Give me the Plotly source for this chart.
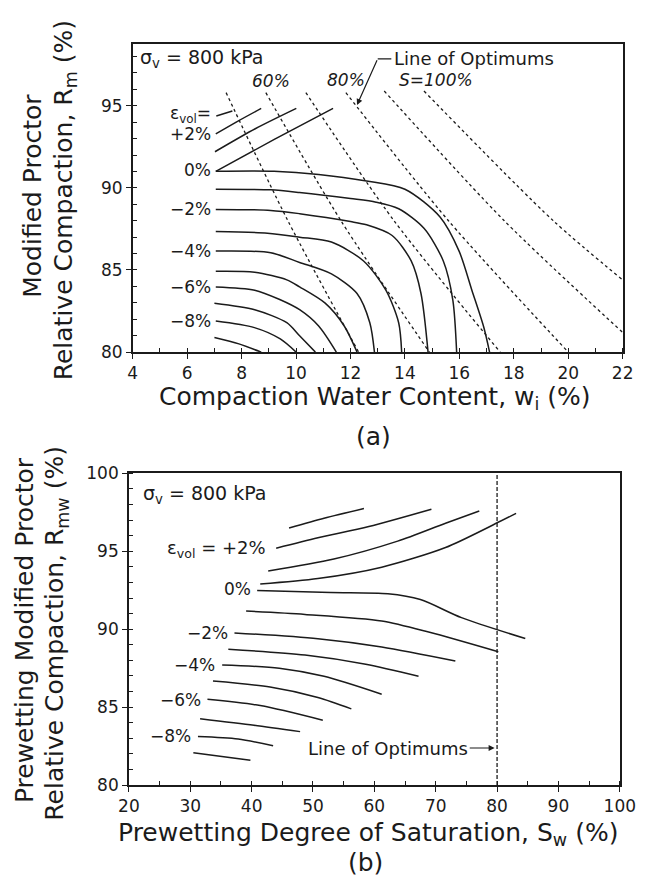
import plotly.graph_objects as go

W, H = 654, 886
FONT = "DejaVu Sans"
INK = "#1b1b1b"

# ---------------- panel (a): Rm vs compaction water content wi ----------------
# volumetric strain contours, points are (wi %, Rm %)
a_ev_plus3 = [(7.07, 94.38), (7.66, 94.68)]
a_ev_plus2 = [(7.05, 93.29), (7.9, 94.1), (8.72, 94.84)]
a_ev_plus1 = [(7.02, 92.2), (8.5, 93.6), (10.01, 94.84)]
a_ev_zero_up = [(7.05, 91.01), (9.2, 92.95), (11.36, 94.84)]
a_ev_zero = [(7.05, 91.01), (9.19, 91.01), (10.83, 90.82), (12.59, 90.42), (14.0, 89.92),
             (15.29, 88.23), (15.99, 86.15), (16.46, 83.77), (16.9, 81.5), (17.11, 80.0)]
a_ev_minus1 = [(7.05, 89.92), (9.07, 89.88), (10.13, 89.72), (12.0, 89.35), (12.94, 89.13),
               (13.77, 88.73), (14.7, 87.54), (15.41, 85.55), (15.76, 83.17), (15.9, 80.0)]
a_ev_minus2 = [(7.05, 88.69), (9.07, 88.63), (10.13, 88.43), (12.0, 87.95), (12.59, 87.75),
               (13.53, 87.1), (14.23, 85.55), (14.59, 83.57), (14.85, 80.0)]
a_ev_minus3 = [(7.05, 87.34), (8.95, 87.24), (10.13, 87.0), (11.3, 86.7), (12.48, 85.55),
               (13.3, 83.77), (13.77, 81.79), (13.88, 80.0)]
a_ev_minus4 = [(7.05, 86.15), (9.07, 86.05), (10.13, 85.46), (11.3, 84.76), (12.24, 83.57),
               (12.71, 81.79), (12.88, 80.0)]
a_ev_minus5 = [(7.05, 84.92), (8.48, 84.86), (9.66, 84.4), (10.13, 83.97), (11.07, 82.98),
               (11.77, 81.59), (12.24, 80.0)]
a_ev_minus6 = [(7.05, 83.97), (8.48, 83.77), (9.4, 83.2), (10.13, 82.58), (10.83, 81.59), (11.48, 80.0)]
a_ev_minus7 = [(7.0, 82.98), (8.48, 82.58), (9.66, 81.79), (10.13, 80.99), (10.71, 80.0)]
a_ev_minus8 = [(7.05, 81.89), (8.47, 81.49), (9.42, 80.8), (10.0, 80.0)]
a_ev_minus9 = [(7.0, 80.89), (7.9, 80.5), (8.72, 80.0)]

# degree-of-saturation lines (dashed), points are (wi %, Rm %)
a_sat_50 = [(7.43, 95.8), (9.7, 88.0), (12.3, 80.0)]
a_sat_60 = [(8.89, 95.8), (11.65, 88.0), (14.9, 80.0)]
a_sat_70 = [(10.36, 95.8), (13.6, 88.0), (17.5, 80.0)]
a_sat_80 = [(11.83, 95.8), (15.6, 88.0), (20.0, 80.0)]
a_sat_90 = [(13.24, 95.9), (17.65, 88.0), (22.0, 81.2)]
a_sat_100 = [(14.7, 95.9), (19.45, 88.0), (22.0, 84.4)]

a_x_ticks = [4, 6, 8, 10, 12, 14, 16, 18, 20, 22]
a_y_ticks = [80, 85, 90, 95]

# ---------------- panel (b): Rmw vs prewetting degree of saturation Sw ----------------
b_ev_plus3 = [(46.1, 96.49), (51.8, 97.12), (58.3, 97.74)]
b_ev_plus2 = [(44.0, 95.19), (50.8, 95.86), (59.1, 96.59), (69.3, 97.70)]
b_ev_plus1 = [(42.7, 93.73), (53.4, 94.5), (63.8, 95.65), (71.6, 96.8), (77.1, 97.58)]
b_ev_zero_up = [(41.4, 92.9), (50.8, 93.25), (61.2, 93.98), (71.6, 95.24), (79.4, 96.7), (83.1, 97.43)]
b_ev_zero = [(40.9, 92.48), (52.9, 92.35), (62.2, 92.27), (67.5, 91.9), (74.2, 90.74), (84.6, 89.4)]
b_ev_minus1 = [(39.1, 91.16), (48.7, 90.95), (61.2, 90.53), (69.0, 89.8), (80.2, 88.55)]
b_ev_minus2 = [(37.2, 89.76), (50.8, 89.39), (61.2, 88.86), (73.2, 87.96)]
b_ev_minus3 = [(36.2, 88.71), (48.7, 88.34), (58.6, 87.75), (67.2, 86.98)]
b_ev_minus4 = [(35.2, 87.71), (44.5, 87.5), (51.8, 86.98), (61.2, 85.83)]
b_ev_minus5 = [(33.7, 86.67), (43.0, 86.29), (50.8, 85.62), (56.25, 84.89)]
b_ev_minus6 = [(32.8, 85.5), (41.4, 85.1), (51.6, 84.16)]
b_ev_minus7 = [(31.6, 84.26), (40.4, 83.84), (47.9, 83.43)]
b_ev_minus8 = [(31.25, 83.11), (37.8, 82.95), (43.5, 82.53)]
b_ev_minus9 = [(30.5, 82.07), (39.8, 81.59)]

b_optimum_sw = 80
b_x_ticks = [20, 30, 40, 50, 60, 70, 80, 90, 100]
b_y_ticks = [80, 85, 90, 95, 100]

a_contours = [a_ev_plus3, a_ev_plus2, a_ev_plus1, a_ev_zero_up, a_ev_zero, a_ev_minus1,
              a_ev_minus2, a_ev_minus3, a_ev_minus4, a_ev_minus5, a_ev_minus6, a_ev_minus7,
              a_ev_minus8, a_ev_minus9]
a_saturation = [a_sat_50, a_sat_60, a_sat_70, a_sat_80, a_sat_90, a_sat_100]
b_contours = [b_ev_plus3, b_ev_plus2, b_ev_plus1, b_ev_zero_up, b_ev_zero, b_ev_minus1,
              b_ev_minus2, b_ev_minus3, b_ev_minus4, b_ev_minus5, b_ev_minus6, b_ev_minus7,
              b_ev_minus8, b_ev_minus9]

fig = go.Figure()


def add_curve(pts, xa, ya, dash="solid", width=1.5):
    fig.add_trace(go.Scatter(
        x=[p[0] for p in pts], y=[p[1] for p in pts], xaxis=xa, yaxis=ya,
        mode="lines", line=dict(color=INK, width=width, dash=dash, shape="spline", smoothing=0.8),
        hoverinfo="skip", showlegend=False))


for c in a_contours:
    add_curve(c, "x", "y")
for s in a_saturation:
    add_curve(s, "x", "y", dash="3px,3px", width=1.3)
for c in b_contours:
    add_curve(c, "x2", "y2")
# line of optimums in panel (b)
fig.add_trace(go.Scatter(x=[b_optimum_sw, b_optimum_sw], y=[b_y_ticks[0], b_y_ticks[-1]],
                         xaxis="x2", yaxis="y2", mode="lines",
                         line=dict(color=INK, width=1.3, dash="4px,2px"),
                         hoverinfo="skip", showlegend=False))

tickfont = dict(family=FONT, size=17, color=INK)


def axis(domain, rng, ticks, anchor, minor_step):
    return dict(domain=domain, range=rng, tickvals=ticks, anchor=anchor,
                showgrid=False, zeroline=False, showline=True, mirror=True,
                linecolor=INK, linewidth=1.6, ticks="outside", ticklen=5,
                tickcolor=INK, tickwidth=1.2, tickfont=tickfont,
                minor=dict(dtick=minor_step, ticks="inside", ticklen=4,
                           tickcolor=INK, tickwidth=1, showgrid=False))


def px_x(p):
    return p / W


def px_y(p):
    return 1 - p / H


fig.update_layout(
    width=W, height=H, margin=dict(l=0, r=0, t=0, b=0),
    paper_bgcolor="white", plot_bgcolor="white",
    xaxis=axis([px_x(127), px_x(638)], [4, 22], a_x_ticks, "y", 1),
    yaxis=axis([px_y(350), px_y(35)], [80, 98.75], a_y_ticks, "x", 1),
    xaxis2=axis([px_x(123), px_x(635)], [20, 100], b_x_ticks, "y2", 5),
    yaxis2=axis([px_y(793), px_y(474)], [80, 100], b_y_ticks, "x2", 1),
)

ann = []


def text(x, y, s, xref="x", yref="y", size=17, xanchor="center", italic=False, angle=0):
    ann.append(dict(x=x, y=y, xref=xref, yref=yref, text=s, showarrow=False,
                    xanchor=xanchor, yanchor="middle", textangle=angle,
                    font=dict(family=FONT, size=size, color=INK,
                              style="italic" if italic else "normal")))


# panel (a) labels
text(4.2, 97.86, "σ<sub>v</sub> = 800 kPa", xanchor="left", size=19)
text(6.96, 94.46, "ε<sub>vol</sub>=", xanchor="right")
text(6.96, 93.27, "+2%", xanchor="right")
text(6.96, 91.1, "0%", xanchor="right")
text(6.96, 88.69, "−2%", xanchor="right")
text(6.96, 86.13, "−4%", xanchor="right")
text(6.96, 83.99, "−6%", xanchor="right")
text(6.96, 81.9, "−8%", xanchor="right")
text(9.07, 96.5, "60%", italic=True)
text(11.82, 96.55, "80%", italic=True)
text(13.72, 96.55, "S=100%", xanchor="left", italic=True)
text(13.54, 97.86, "Line of Optimums", xanchor="left", size=18)
fig.add_shape(type="line", xref="x", yref="y", x0=13.0, y0=97.86, x1=13.5, y1=97.86,
              line=dict(color=INK, width=1.2))
ann.append(dict(x=12.24, y=95.05, xref="x", yref="y", ax=13.0, ay=97.86, axref="x", ayref="y",
                text="", showarrow=True, arrowhead=2, arrowsize=1, arrowwidth=1.2, arrowcolor=INK))

# panel (b) labels
text(22.0, 98.62, "σ<sub>v</sub> = 800 kPa", xref="x2", yref="y2", xanchor="left", size=19)
text(42.6, 95.17, "ε<sub>vol</sub> = +2%", xref="x2", yref="y2", xanchor="right", size=18)
text(40.2, 92.6, "0%", xref="x2", yref="y2", xanchor="right")
text(36.4, 89.78, "−2%", xref="x2", yref="y2", xanchor="right")
text(34.4, 87.71, "−4%", xref="x2", yref="y2", xanchor="right")
text(32.0, 85.45, "−6%", xref="x2", yref="y2", xanchor="right")
text(30.4, 83.13, "−8%", xref="x2", yref="y2", xanchor="right")
text(48.9, 82.38, "Line of Optimums", xref="x2", yref="y2", xanchor="left", size=18)
ann.append(dict(x=79.6, y=82.38, xref="x2", yref="y2", ax=75.3, ay=82.38, axref="x2", ayref="y2",
                text="", showarrow=True, arrowhead=2, arrowsize=1, arrowwidth=1.2, arrowcolor=INK))

# axis titles
TS = 25
text(px_x(23), px_y(190), "Modified Proctor", "paper", "paper", size=TS, angle=-90)
text(px_x(56), px_y(195), "Relative Compaction, R<sub>m</sub> (%)", "paper", "paper", size=TS, angle=-90)
text(px_x(380), px_y(397), "Compaction Water Content, w<sub>i</sub> (%)", "paper", "paper", size=TS)
text(px_x(378), px_y(436), "(a)", "paper", "paper", size=TS)
text(px_x(14), px_y(634), "Prewetting Modified Proctor", "paper", "paper", size=TS, angle=-90)
text(px_x(47), px_y(638), "Relative Compaction, R<sub>mw</sub> (%)", "paper", "paper", size=TS, angle=-90)
text(px_x(372), px_y(843), "Prewetting Degree of Saturation, S<sub>w</sub> (%)", "paper", "paper", size=TS)
text(px_x(370), px_y(872), "(b)", "paper", "paper", size=TS)

fig.update_layout(annotations=ann)
fig.write_html("out.html")
